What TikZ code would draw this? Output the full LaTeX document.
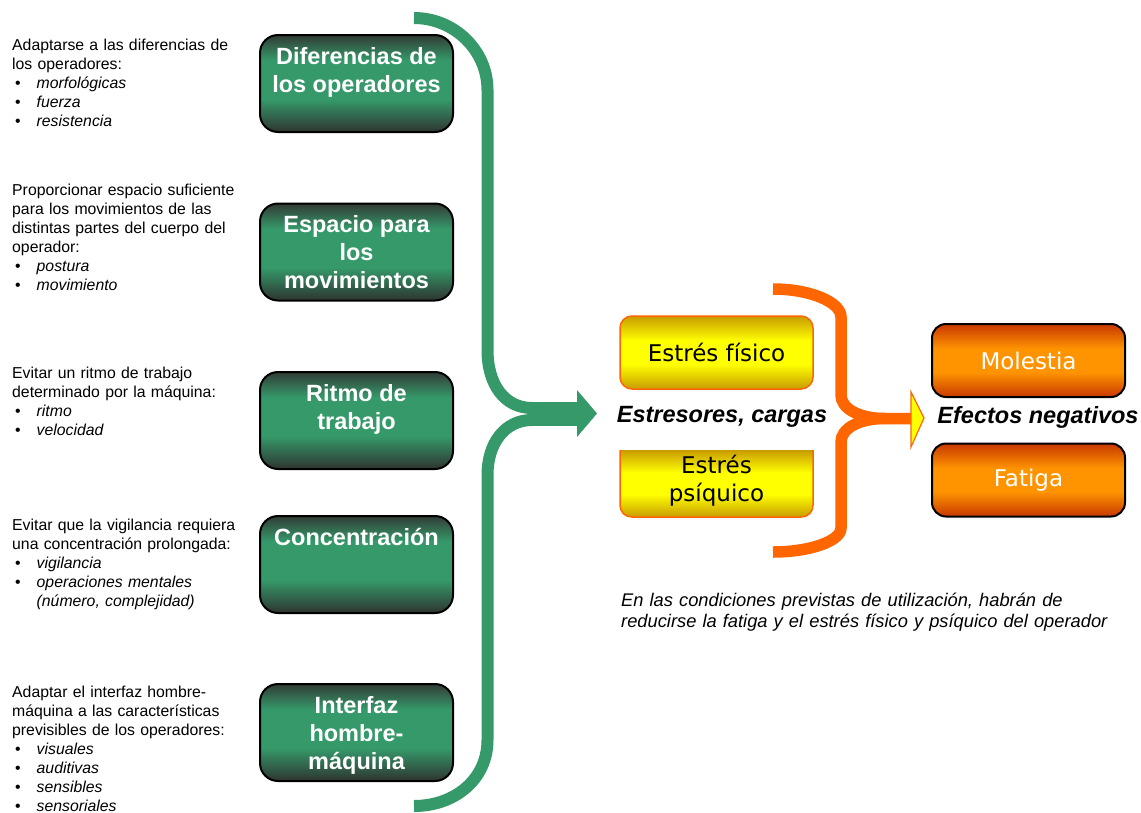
\documentclass[tikz,border=0pt]{standalone}
\usepackage{fontspec}
\setmainfont{Liberation Sans}
\newfontfamily\verd{DejaVu Sans}
\definecolor{ggreen}{HTML}{35996A}
\definecolor{gdark}{HTML}{2E3430}
\definecolor{gdarktop}{HTML}{323B35}
\definecolor{gold}{HTML}{C89C00}
\definecolor{yel}{HTML}{FFFF00}
\definecolor{odark}{HTML}{C83800}
\definecolor{omid}{HTML}{FF9400}
\definecolor{obrace}{HTML}{FF6600}
\pgfdeclareverticalshading{gshade}{100bp}{color(0bp)=(gdark); color(25bp)=(gdark); color(42bp)=(ggreen); color(62bp)=(ggreen); color(75bp)=(gdarktop); color(100bp)=(gdarktop)}
\pgfdeclareverticalshading{yshade}{100bp}{color(0bp)=(gold); color(25bp)=(gold); color(42bp)=(yel); color(58bp)=(yel); color(75bp)=(gold); color(100bp)=(gold)}
\pgfdeclareverticalshading{oshade}{100bp}{color(0bp)=(odark); color(25bp)=(odark); color(42bp)=(omid); color(58bp)=(omid); color(75bp)=(odark); color(100bp)=(odark)}
\newcommand{\bul}[1]{\makebox[24.5pt][l]{\hspace{3pt}\textbullet}\textit{#1}}
\newcommand{\gtxt}[1]{\parbox[c][97pt][t]{190pt}{\centering\rule{0pt}{29pt}#1}}
\begin{document}
\begin{tikzpicture}[x=1pt,y=-1pt,
  gbox/.style={draw=black, line width=2pt, rounded corners=18pt, shade, shading=gshade,
    minimum width=193pt, minimum height=97pt, inner sep=0pt, text=white,
    font=\fontsize{23.5}{28}\selectfont\bfseries},
  ybox/.style={draw=obrace, line width=1.5pt, rounded corners=12pt, shade, shading=yshade,
    minimum width=193pt, minimum height=73pt, inner sep=0pt, align=center,
    font=\verd\fontsize{23}{28}\selectfont},
  obox/.style={draw=black, line width=2pt, rounded corners=14pt, shade, shading=oshade,
    minimum width=193pt, minimum height=73pt, inner sep=0pt, text=white,
    font=\verd\fontsize{23}{28}\selectfont},
  ltext/.style={anchor=base west, inner sep=0pt, text width=260pt, align=left,
    font=\fontsize{15.8}{19}\selectfont},
  biglabel/.style={inner sep=0pt, font=\fontsize{23.5}{28}\selectfont\bfseries\itshape},
  gbrace/.style={draw=ggreen, line width=12pt},
  obracestyle/.style={draw=obrace, line width=11.5pt}
]
\useasboundingbox (0,0) rectangle (1141,812);
\fill[white] (0,0) rectangle (1141,812);

% green brace
\path[gbrace] (414,18) .. controls (454,18) and (487.5,50) .. (487.5,90) -- (487.5,350)
  .. controls (487.5,385) and (505,408) .. (532,408);
\path[gbrace] (532,420) .. controls (505,420) and (487.5,443) .. (487.5,475) -- (487.5,740)
  .. controls (487.5,780) and (454,806) .. (414,806);
\fill[ggreen] (528,402) rectangle (578,426);
\coordinate (gtip) at (597,413.5);
\fill[ggreen] (577,390) -- (gtip) -- (577,437) -- cycle;

% orange brace
\path[obracestyle] (773,289) .. controls (810,289) and (841,302) .. (841,317) -- (841,395)
  .. controls (841,408) and (858,418.5) .. (885,418.5) -- (912,418.5);
\path[obracestyle] (885,418.5) .. controls (858,418.5) and (841,429) .. (841,442) -- (841,528)
  .. controls (841,541) and (810,552) .. (773,552);
\coordinate (otip) at (924,418);
\filldraw[fill=yel, draw=obrace, line width=1.2pt] (911,392) -- (otip) -- (911,447) -- cycle;

% left texts
\node[ltext] (t1) at (12,50.5) {Adaptarse a las diferencias de\\los operadores:\\\bul{morfológicas}\\\bul{fuerza}\\\bul{resistencia}};
\node[ltext] (t2) at (12,195.5) {Proporcionar espacio suficiente\\para los movimientos de las\\distintas partes del cuerpo del\\operador:\\\bul{postura}\\\bul{movimiento}};
\node[ltext] (t3) at (12,378.5) {Evitar un ritmo de trabajo\\determinado por la máquina:\\\bul{ritmo}\\\bul{velocidad}};
\node[ltext] (t4) at (12,530.5) {Evitar que la vigilancia requiera\\una concentración prolongada:\\\bul{vigilancia}\\\bul{operaciones mentales}\\\hspace*{24.5pt}\textit{(número, complejidad)}};
\node[ltext] (t5) at (12,697.5) {Adaptar el interfaz hombre-\\máquina a las características\\previsibles de los operadores:\\\bul{visuales}\\\bul{auditivas}\\\bul{sensibles}\\\bul{sensoriales}};

% green boxes
\node[gbox] (g1) at (356.5,83.5) {\gtxt{Diferencias de\\los operadores}};
\node[gbox] (g2) at (356.5,252) {\gtxt{Espacio para\\los\\movimientos}};
\node[gbox] (g3) at (356.5,420.5) {\gtxt{Ritmo de\\trabajo}};
\node[gbox] (g4) at (356.5,564.5) {\gtxt{Concentración}};
\node[gbox] (g5) at (356.5,732.5) {\gtxt{Interfaz\\hombre-\\máquina}};

% yellow boxes
\node[ybox] (fis) at (716.5,352.5) {Estrés físico};
\shade[shading=yshade] (620,450) -- (813,450) -- (813,505) .. controls (813,512) and (808,517) .. (801,517)
  -- (632,517) .. controls (625,517) and (620,512) .. (620,505) -- cycle;
\draw[obrace, line width=1.5pt] (813,450) -- (813,505) .. controls (813,512) and (808,517) .. (801,517)
  -- (632,517) .. controls (625,517) and (620,512) .. (620,505) -- (620,450);
\node[inner sep=0pt, align=center, font=\verd\fontsize{23}{28}\selectfont] (psi) at (716.5,481) {Estrés\\psíquico};

% orange boxes
\node[obox] (mol) at (1028.5,360.5) {Molestia};
\node[obox] (fat) at (1028.5,480) {Fatiga};

% labels
\node[biglabel] (estres) at (722,417) {Estresores, cargas};
\node[biglabel] (efect) at (1038,417) {Efectos negativos};

\node[anchor=base west, inner sep=0pt, text width=530pt, align=left,
  font=\fontsize{18.3}{21}\selectfont\itshape] (nota) at (621,606.5)
  {En las condiciones previstas de utilización, habrán de\\reducirse la fatiga y el estrés físico y psíquico del operador};
\end{tikzpicture}
\end{document}
